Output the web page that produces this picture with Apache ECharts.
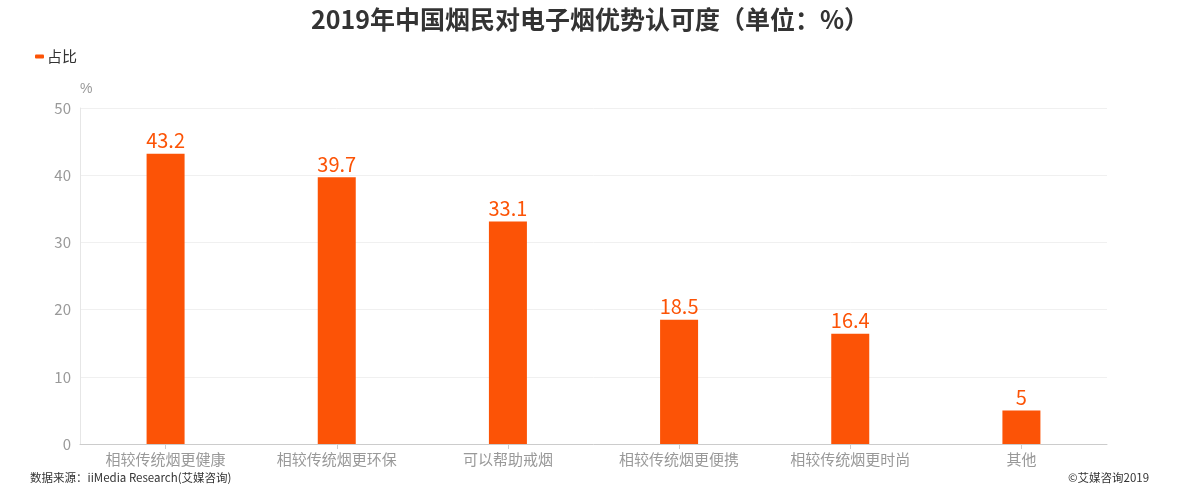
<!DOCTYPE html>
<html>
<head>
<meta charset="utf-8">
<script src="https://cdn.jsdelivr.net/npm/echarts@6/dist/echarts.min.js"></script>
<style>
html,body{margin:0;padding:0;background:#fff;}
#main{width:1180px;height:500px;}
</style>
</head>
<body>
<div id="main"></div>
<script>
var categories = ['相较传统烟更健康', '相较传统烟更环保', '可以帮助戒烟', '相较传统烟更便携', '相较传统烟更时尚', '其他'];
var values = [43.2, 39.7, 33.1, 18.5, 16.4, 5];
var yTicks = [0, 10, 20, 30, 40, 50];

var dom = document.getElementById("main");
var myChart = echarts.init(dom);
var fontFam = '"Microsoft YaHei","Noto Sans CJK SC",sans-serif';
var option = {
    backgroundColor: '#fff',
    title: {
        text: '2019年中国烟民对电子烟优势认可度（单位：%）',
        left: 'center',
        top: 2,
        textStyle: {fontSize: 25, fontWeight: 'bold', color: '#333', fontFamily: fontFam}
    },
    legend: {
        left: 30,
        top: 44,
        itemWidth: 9,
        itemHeight: 4,
        itemGap: 10,
        textStyle: {fontSize: 15, color: '#333', fontFamily: fontFam, padding: [0, 0, 0, -2]},
        data: ['占比']
    },
    graphic: [
        {type: 'text', left: 30, top: 472, style: {text: '数据来源：iiMedia Research(艾媒咨询)', fill: '#333', font: '11.5px ' + fontFam}},
        {type: 'text', left: 1068, top: 472, style: {text: '©艾媒咨询2019', fill: '#333', font: '11.5px ' + fontFam}}
    ],
    grid: {left: 80, right: 73, top: 108, bottom: 56},
    xAxis: {
        type: 'category',
        data: categories,
        axisLine: {lineStyle: {color: '#ccc'}},
        axisTick: {show: true, alignWithLabel: true, lineStyle: {color: '#ccc'}},
        axisLabel: {color: '#999', fontSize: 15, margin: 8, fontFamily: fontFam}
    },
    yAxis: {
        type: 'value',
        name: '%',
        nameGap: 12,
        nameTextStyle: {color: '#999', fontSize: 14, align: 'left', padding: [0, 0, 0, 0]},
        min: yTicks[0],
        max: yTicks[yTicks.length - 1],
        interval: 10,
        axisLine: {show: true, lineStyle: {color: '#e6e6e6'}},
        axisTick: {show: false},
        axisLabel: {color: '#999', fontSize: 15, margin: 9, fontFamily: fontFam},
        splitLine: {lineStyle: {color: '#f0f0f0'}}
    },
    series: [{
        name: '占比',
        type: 'bar',
        barWidth: 38,
        itemStyle: {color: '#fc5306'},
        label: {show: true, position: 'top', color: '#fc5306', fontSize: 20, distance: 3, fontFamily: fontFam},
        data: values
    }]
};
myChart.setOption(option, true);
</script>
</body>
</html>
